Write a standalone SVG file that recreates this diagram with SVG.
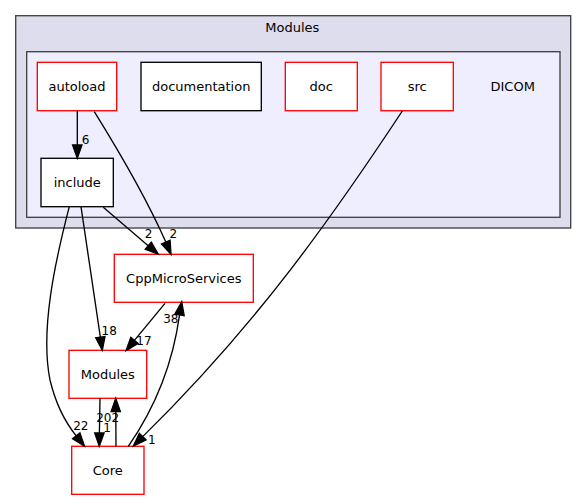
<svg xmlns="http://www.w3.org/2000/svg" width="587" height="500" viewBox="0 0 587 500">
<style>
text{font-family:"DejaVu Sans","Noto Sans",sans-serif;fill:#000}
.nt{font-size:13px;text-anchor:middle}
.et{font-size:12px;text-anchor:middle}
.box{fill:#fff;stroke-width:1.33}
.red{stroke:#ff0000}
.blk{stroke:#000}
.edge path{fill:none;stroke:#000;stroke-width:1.33}
.edge polygon{fill:#000;stroke:#000;stroke-width:1.33}
</style>
<g id="cluster_Modules">
<rect x="15.7" y="15.7" width="555" height="212.3" fill="#ddddee" stroke="#404040" stroke-width="1.33"/>
<text class="nt" x="292.3" y="31.5">Modules</text>
</g>
<g id="cluster_DICOM">
<rect x="26.7" y="51.7" width="533.3" height="165.6" fill="#eeeeff" stroke="#404040" stroke-width="1.33"/>
<text class="nt" x="512.7" y="90.7">DICOM</text>
</g>
<g id="node_autoload">
<rect class="box red" x="37.3" y="62.3" width="79.4" height="48.4"/>
<text class="nt" x="77" y="91">autoload</text>
</g>
<g id="node_documentation">
<rect class="box blk" x="141" y="62.3" width="120.3" height="48.4"/>
<text class="nt" x="201.2" y="91">documentation</text>
</g>
<g id="node_doc">
<rect class="box red" x="285.3" y="62.3" width="72" height="48.4"/>
<text class="nt" x="321.3" y="91">doc</text>
</g>
<g id="node_src">
<rect class="box red" x="381" y="62.3" width="72.3" height="48.4"/>
<text class="nt" x="417.2" y="91">src</text>
</g>
<g id="node_include">
<rect class="box blk" x="41" y="158.3" width="72.3" height="48.4"/>
<text class="nt" x="77.2" y="187">include</text>
</g>
<g id="node_CppMicroServices">
<rect class="box red" x="114.3" y="254.3" width="139" height="48"/>
<text class="nt" x="183.8" y="283">CppMicroServices</text>
</g>
<g id="node_Modules">
<rect class="box red" x="69" y="350.3" width="77.7" height="48"/>
<text class="nt" x="107.8" y="379">Modules</text>
</g>
<g id="node_Core">
<rect class="box red" x="71.7" y="446.3" width="72.3" height="48"/>
<text class="nt" x="107.8" y="475">Core</text>
</g>
<g id="connectors" class="edge">
<g id="e_autoload_include">
<path d="M77.3,110.7 L77.3,145"/>
<polygon points="72.6,145 77.3,158.3 82,145"/>
<text class="et" x="85.5" y="144">6</text>
</g>
<g id="e_autoload_cpp">
<path d="M94.3,111.7 C115,145 145,195 165.8,242.1"/>
<polygon points="170.1,240.3 171,254.3 161.5,243.9"/>
<text class="et" x="173.3" y="238">2</text>
</g>
<g id="e_include_cpp">
<path d="M103.3,207.3 L148.2,245.7"/>
<polygon points="151.3,242.1 158.3,254.3 145.2,249.3"/>
<text class="et" x="148.5" y="238">2</text>
</g>
<g id="e_include_modules">
<path d="M81,206.7 L100.35,337.15"/>
<polygon points="105,336.5 102.3,350.3 95.7,337.8"/>
<text class="et" x="109.2" y="335">18</text>
</g>
<g id="e_include_core">
<path d="M69.3,206.7 C55,262 40,330 50,380 C56,405 65,422 76.25,435.85"/>
<polygon points="79.95,432.95 84.5,446.3 72.55,438.75"/>
<text class="et" x="80.8" y="430">22</text>
</g>
<g id="e_cpp_modules">
<path d="M165,303.3 L134.45,340.43"/>
<polygon points="138.1,343.4 126,350.7 130.8,337.45"/>
<text class="et" x="144" y="345">17</text>
</g>
<g id="e_modules_core">
<path d="M100,398.3 L99.4,433"/>
<polygon points="94.7,433 99.3,446.3 104.1,433"/>
<text class="et" x="107" y="431.5">1</text>
</g>
<g id="e_core_modules">
<path d="M116,446.3 L115.8,411.6"/>
<polygon points="111.1,411.6 115.7,398.3 120.4,411.6"/>
<text class="et" x="107.7" y="421.5">202</text>
</g>
<g id="e_core_cpp">
<path d="M128.3,446.3 C150,415 172,370 179.53,314.83"/>
<polygon points="184.17,315.6 181.7,301.7 174.89,314.06"/>
<text class="et" x="170.8" y="323">38</text>
</g>
<g id="e_src_core">
<path d="M402.3,111 C329.7,221 254.7,326.8 142.7,436.6"/>
<polygon points="146.02,439.92 133.3,446 139.38,433.28"/>
<text class="et" x="151.7" y="444">1</text>
</g>
</g>
</svg>
